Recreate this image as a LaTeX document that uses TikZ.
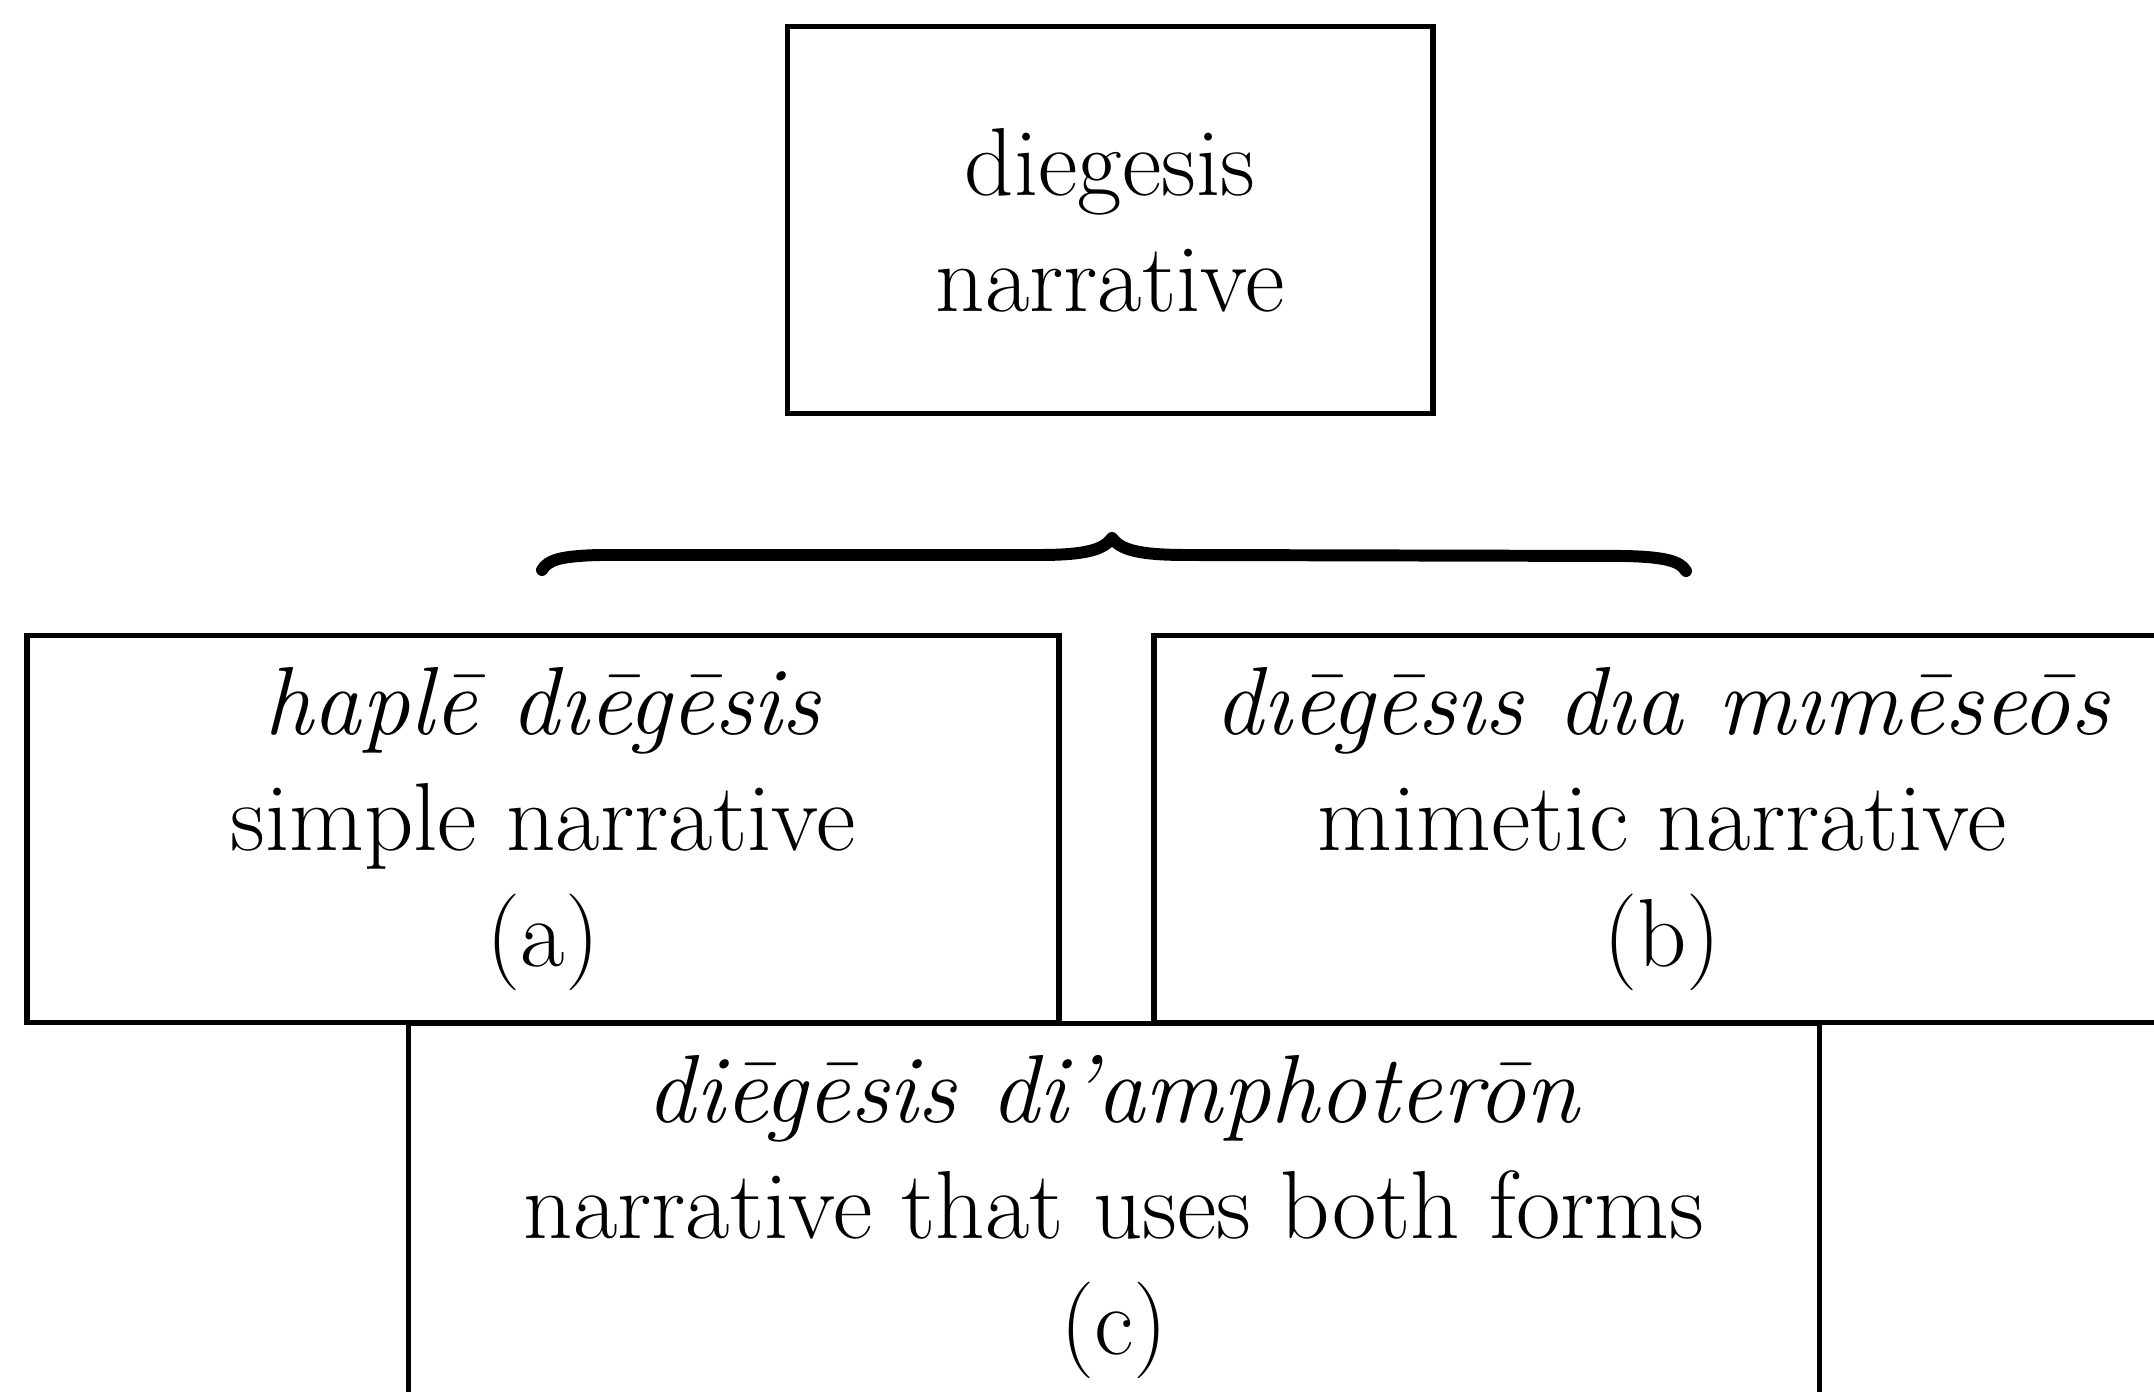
\documentclass[tikz,border=0pt]{standalone}
\usepackage{fontspec}
\begin{document}
\begin{tikzpicture}[x=0.01cm,y=-0.01cm,
  box/.style={draw=black,line width=1.6pt,rectangle,inner sep=0pt,align=center,
    minimum height=3.87cm,font=\fontsize{27.5}{32.9}\selectfont},
  bracepath/.style={line width=3.4pt,line cap=round,line join=round}]
\clip (0,0) rectangle (2154,1392);
\fill[white] (0,0) rectangle (2154,1392);
\node[box,minimum width=6.45cm] (top) at (1110,220) {diegesis\\narrative};
\node[box,minimum width=14.10cm,line width=1.3pt] (c) at (1114,1217) {\textit{diēgēsis di’amphoterōn}\\narrative that uses both forms\\(c)};
\node[box,minimum width=10.32cm] (a) at (543,829) {\textit{haplē dıēgēsis}\\simple narrative\\(a)};
\node[box,minimum width=10.16cm] (b) at (1662,829) {\textit{dıēgēsıs dıa mımēseōs}\\mimetic narrative\\(b)};
\draw[bracepath] (542,570) .. controls (548,560) and (560,556) .. (600,555)
  -- (1040,555) .. controls (1088,555) and (1104,549) .. (1112,538)
  .. controls (1120,549) and (1136,555) .. (1186,555)
  -- (1625,556) .. controls (1665,557) and (1680,561) .. (1686,571);
\end{tikzpicture}
\end{document}
